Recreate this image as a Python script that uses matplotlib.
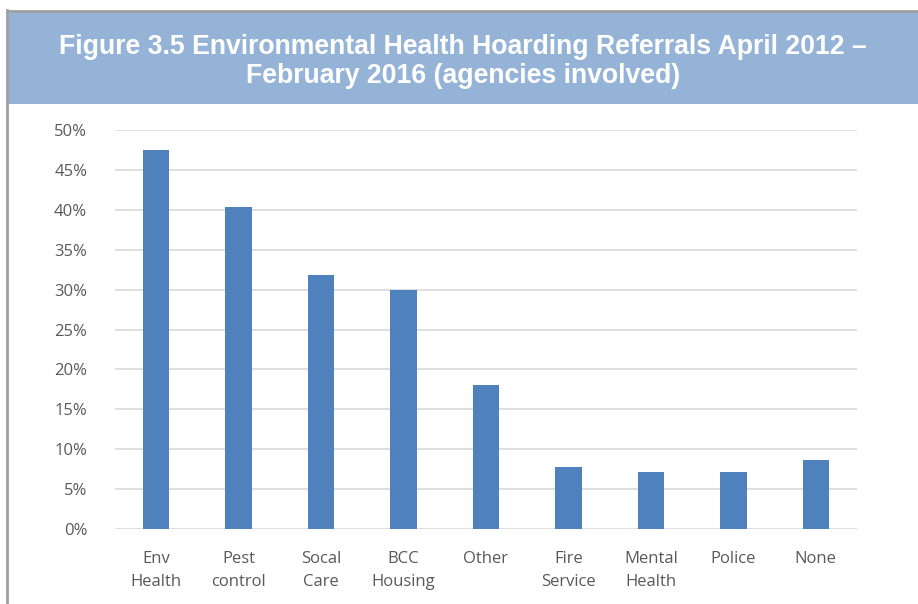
import matplotlib.pyplot as plt
from matplotlib.patches import Rectangle
from matplotlib.lines import Line2D
from matplotlib.ticker import FuncFormatter

# data
agencies = ['Env\nHealth', 'Pest\ncontrol', 'Socal\nCare', 'BCC\nHousing', 'Other',
            'Fire\nService', 'Mental\nHealth', 'Police', 'None']
share = [47.5, 40.3, 31.8, 30.0, 18.1, 7.8, 7.1, 7.1, 8.7]
yticks = [0, 5, 10, 15, 20, 25, 30, 35, 40, 45, 50]

title = 'Figure 3.5 Environmental Health Hoarding Referrals April 2012 –\nFebruary 2016 (agencies involved)'

W, H = 918, 604
fig = plt.figure(figsize=(W / 100, H / 100), dpi=100)
fig.patch.set_facecolor('white')

# header band and frame
fig.add_artist(Rectangle((8 / W, 1 - 104 / H), 1, 92 / H, transform=fig.transFigure,
                         facecolor='#95B3D7', edgecolor='none'))
fig.add_artist(Line2D([7 / W, 7 / W], [0, 1 - 10 / H], transform=fig.transFigure,
                      color='#A0A0A0', lw=2))
fig.add_artist(Line2D([7 / W, 1], [1 - 11 / H, 1 - 11 / H], transform=fig.transFigure,
                      color='#A0A0A0', lw=2))
fig.text(463 / W, 1 - 61.5 / H, title, ha='center', va='center', color='white',
         fontsize=19.2, fontweight='bold', family='Liberation Sans', linespacing=1.18)

ax = fig.add_axes([115 / W, 1 - 529 / H, (857 - 115) / W, (529 - 130) / H])
x = range(len(agencies))
ax.bar(x, share, width=0.32, color='#4F81BD', zorder=3)
ax.set_xlim(-0.5, len(agencies) - 0.5)
ax.set_ylim(0, 50)
ax.set_yticks(yticks)
ax.yaxis.set_major_formatter(FuncFormatter(lambda v, p: '%d%%' % v))
ax.grid(axis='y', color='#D9D9D9', lw=1.2, zorder=0)
for s in ax.spines.values():
    s.set_visible(False)
ax.tick_params(length=0, colors='#595959', labelsize=12)
ax.tick_params(axis='y', pad=20)
ax.tick_params(axis='x', pad=16)
ax.set_xticks(list(x))
ax.set_xticklabels(agencies, family='Open Sans', linespacing=1.6)
for lab in ax.get_yticklabels():
    lab.set_family('Open Sans')

fig.savefig('out.png', dpi=100)
